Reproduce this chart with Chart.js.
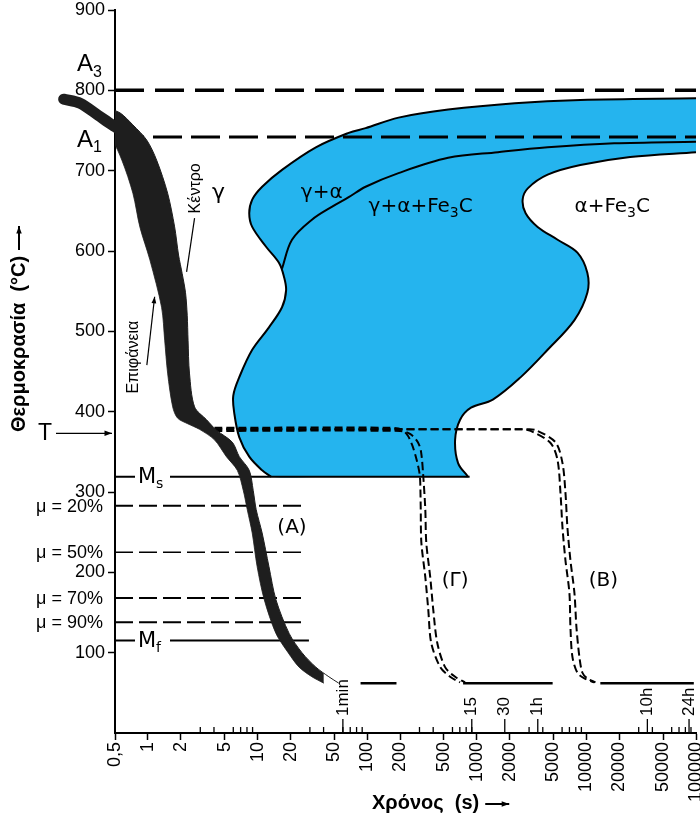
<!DOCTYPE html>
<html>
<head>
<meta charset="utf-8">
<script src="https://cdn.jsdelivr.net/npm/chart.js@4.4.0/dist/chart.umd.min.js"></script>
<style>
  body { margin: 0; background: #fff; }
  canvas { display: block; }
</style>
</head>
<body>
<canvas id="ttt" width="700" height="818"></canvas>
<script>
// values: time in s (log axis), temperature in °C
var xTicks = [0.5, 1, 2, 5, 10, 20, 50, 100, 200, 500, 1000, 2000, 5000, 10000, 20000, 50000, 100000];
var yTicks = [100, 200, 300, 400, 500, 600, 700, 800, 900];
var minorTicks = [3, 4, 6, 7, 8, 9];
var timeMarks = [60, 900, 1800, 3600, 36000, 86400];
var timeLabels = ['1min', '15', '30', '1h', '10h', '24h'];

var A3 = 800, A1 = 742, Ms = 319, Mf = 115, Thold = 378;
var muLevels = [283, 225, 168, 138];
var muLabels = ['μ = 20%', 'μ = 50%', 'μ = 70%', 'μ = 90%'];
var muEnd = 26.6, mfEnd = 29.4, msEnd = 860;

// cooling band (A): surface and centre
var surfaceA = [[0.165,785],[0.24,776],[0.35,754],[0.47,738],[0.578,713],[0.728,672],[0.843,630],[1.04,589],[1.33,530],[1.42,489],[1.51,448],[1.68,406],[1.86,392],[2.3,385],[2.95,378],[4.04,365],[5.19,344],[6.53,327],[7.4,302],[8.05,278],[8.93,249],[9.91,207],[11.5,166],[14.7,124],[19.0,100],[23.9,82],[31.3,70],[40.2,62]];
var centreA = [[0.165,793],[0.256,792],[0.423,778],[0.555,772],[0.728,757],[0.975,738],[1.2,713],[1.51,672],[1.75,630],[1.9,595],[2.05,572],[2.2,548],[2.28,520],[2.32,489],[2.39,448],[2.66,406],[3.42,390],[4.21,377],[5.88,362],[6.81,344],[8.39,327],[9.12,302],[9.71,278],[11.0,249],[12.7,207],[14.7,166],[19.4,124],[25.4,100],[34.0,82],[44.7,70],[55.1,62]];
var bandStart = [[0.6,748],[0.47,757],[0.35,769],[0.24,784],[0.17,789]];

// isothermal hold at T, then cooling (Γ) and (B)
var surfaceG = [[4.04,380],[160,380],[205,378],[235,370],[258,358],[275,346],[293,331],[303,319],[306,302],[308,278],[312,237],[339,194],[361,153],[384,112],[464,82],[571,70],[703,63]];
var centreG = [[4.04,376],[200,376],[248,372],[290,362],[310,350],[325,319],[339,278],[346,237],[376,194],[401,153],[436,112],[514,82],[634,70],[781,63]];
var surfaceB = [[4.04,378],[2600,378],[3100,376],[4710,361],[5450,340],[5800,299],[6050,256],[6440,215],[7000,174],[7150,132],[7450,95],[8270,75],[9590,68],[11800,63]];
var centreB = [[4.04,378],[2900,378],[3450,377],[5220,362],[6050,336],[6440,299],[6710,256],[7150,215],[7780,174],[8110,132],[8630,95],[9200,75],[10200,68],[12100,63]];
var restA = [[87,62],[185,62]];
var restG = [[750,62],[4920,62]];
var restB = [[13400,62],[95500,62]];

// transformation region
var startCurve = [[100000,790],[8810,788],[2220,784],[548,776],[193,766],[96.7,753],[67.8,747],[34.0,729],[16.7,701],[11.0,680],[8.93,664],[8.39,647],[8.93,630],[12.0,605],[15.7,585],[17.4,568],[18.2,551],[16.7,530],[12.7,505],[8.93,477],[6.81,443],[6.0,420],[6.13,398],[6.81,368],[8.39,344],[11.0,327],[13.3,319]];
var msEdge = [[40,319],[150,319],[400,319],[700,319]];
var finishCurve = [[832,319],[675,336],[634,365],[704,390],[885,405],[1400,415],[2520,443],[4430,477],[7780,514],[10200,548],[10200,573],[8280,598],[5460,614],[3590,630],[2790,647],[2620,664],[2920,678],[4430,695],[8810,707],[25100,717],[100000,723]];
var innerCurve = [[16.7,578],[20.6,614],[31.3,639],[47.5,655],[67.8,667],[96.7,680],[193,697],[548,716],[1560,723],[4430,729],[17900,734],[100000,736]];

var FONT = '"Liberation Sans", Arial, Helvetica, sans-serif';
var WIDE = '"DejaVu Sans", Verdana, sans-serif';
var BLUE = '#25b4ee';

function pts(arr) {
    return arr.map(function(p){ return {x: p[0], y: p[1]}; });
}
function hline(T, t0, t1) {
    return [{x: t0, y: T}, {x: t1, y: T}];
}
function seg(ctx, x0, y0, x1, y1) {
    ctx.beginPath(); ctx.moveTo(x0, y0); ctx.lineTo(x1, y1); ctx.stroke();
}
function arrow(ctx, x0, y0, x1, y1, h) {
    seg(ctx, x0, y0, x1, y1);
    var a = Math.atan2(y1 - y0, x1 - x0);
    ctx.beginPath();
    ctx.moveTo(x1, y1);
    ctx.lineTo(x1 - h * Math.cos(a - 0.35), y1 - h * Math.sin(a - 0.35));
    ctx.lineTo(x1 - h * Math.cos(a + 0.35), y1 - h * Math.sin(a + 0.35));
    ctx.closePath();
    ctx.fill();
}
function vtext(ctx, s, x, y, align) {
    ctx.save();
    ctx.translate(x, y);
    ctx.rotate(-Math.PI / 2);
    ctx.textAlign = align;
    ctx.textBaseline = 'middle';
    ctx.fillText(s, 0, 0);
    ctx.restore();
}
// text with subscripts: odd entries are subscripts
function chem(ctx, parts, x, y, size, family) {
    var cx = x;
    parts.forEach(function(p, i){
        var sub = i % 2 === 1;
        ctx.font = (sub ? Math.round(size * 0.68) : size) + 'px ' + (family || FONT);
        ctx.textAlign = 'left';
        ctx.textBaseline = 'middle';
        ctx.fillText(p, cx, sub ? y + size * 0.33 : y);
        cx += ctx.measureText(p).width;
    });
}

var decor = {
    id: 'decor',
    afterDraw: function(chart){
        var ctx = chart.ctx, xs = chart.scales.x, ys = chart.scales.y, area = chart.chartArea;
        var X = function(v){ return xs.getPixelForValue(v); };
        var Y = function(v){ return ys.getPixelForValue(v); };
        var w;
        ctx.save();
        ctx.fillStyle = '#000';
        ctx.strokeStyle = '#000';

        // small inner ticks of the log axis
        ctx.lineWidth = 1.3;
        for (var k = 0; k <= 4; k++) {
            minorTicks.forEach(function(m){
                var px = X(m * Math.pow(10, k));
                seg(ctx, px, area.bottom, px, area.bottom - 6);
            });
        }
        // clock time marks
        ctx.font = '17px ' + FONT;
        timeMarks.forEach(function(v, i){
            var px = X(v);
            seg(ctx, px, area.bottom, px, area.bottom - 14);
            vtext(ctx, timeLabels[i], px, area.bottom - 17, 'left');
        });

        // left margin labels
        chem(ctx, ['A', '3'], 77, Y(A3) - 26, 24);
        chem(ctx, ['A', '1'], 77, Y(A1) + 3, 24);
        ctx.font = '23px ' + FONT;
        ctx.textAlign = 'left';
        ctx.fillText('T', 38, Y(Thold) + 4);
        ctx.lineWidth = 1.3;
        arrow(ctx, 56, Y(Thold) + 4, 112, Y(Thold) + 4, 8);
        ctx.font = '18px ' + FONT;
        ctx.textAlign = 'right';
        muLevels.forEach(function(T, i){ ctx.fillText(muLabels[i], 103, Y(T) + 1); });

        // Ms and Mf sit in a gap of their lines
        [[Ms, 's'], [Mf, 'f']].forEach(function(m){
            ctx.fillStyle = '#fff';
            ctx.fillRect(135, Y(m[0]) - 11, 35, 22);
            ctx.fillStyle = '#000';
            chem(ctx, ['M', m[1]], 138, Y(m[0]) + 1, 21, WIDE);
        });

        // region and curve labels
        ctx.font = '22px ' + WIDE;
        ctx.textAlign = 'center';
        ctx.fillText('γ', X(4.4), Y(672));
        ctx.font = '20px ' + WIDE;
        ctx.fillText('γ+α', X(38.5), Y(672));
        chem(ctx, ['γ+α+Fe', '3', 'C'], X(103), Y(655), 20, WIDE);
        chem(ctx, ['α+Fe', '3', 'C'], X(7780), Y(655), 20, WIDE);
        ctx.font = '20px ' + WIDE;
        ctx.textAlign = 'center';
        ctx.fillText('(A)', X(20.6), Y(256));
        ctx.fillText('(Γ)', X(634), Y(190));
        ctx.fillText('(B)', X(14300), Y(190));

        ctx.font = '16px ' + FONT;
        vtext(ctx, 'Κέντρο', X(2.72), Y(678), 'center');
        ctx.lineWidth = 1.2;
        seg(ctx, X(2.66), Y(641), X(2.25), Y(574));
        vtext(ctx, 'Επιφάνεια', X(0.743), Y(468), 'center');
        arrow(ctx, X(0.976), Y(458), X(1.15), Y(543), 7);

        // axis titles with drawn arrows
        ctx.font = 'bold 20px ' + FONT;
        vtext(ctx, 'Θερμοκρασία  (°C)', 19, 432, 'left');
        w = ctx.measureText('Θερμοκρασία  (°C)').width;
        ctx.lineWidth = 2;
        arrow(ctx, 19, 432 - w - 6, 19, 432 - w - 30, 8);
        ctx.textAlign = 'left';
        ctx.textBaseline = 'middle';
        ctx.fillText('Χρόνος  (s)', 372, 803);
        w = ctx.measureText('Χρόνος  (s)').width;
        arrow(ctx, 372 + w + 6, 804, 372 + w + 30, 804, 8);
        ctx.restore();
    }
};

function line(data, color, width, dash, order, extra) {
    var ds = {
        data: data, borderColor: color, borderWidth: width, borderDash: dash || [],
        pointRadius: 0, fill: false, tension: 0, order: order
    };
    for (var k in extra || {}) ds[k] = extra[k];
    return ds;
}

var datasets = [
    // the thick cooling band, surface filled to centre
    line(pts(surfaceA), '#1e1e1e', 0.8, null, 1, {fill: '+1', backgroundColor: '#1e1e1e', tension: 0.3}),
    line(pts(centreA), '#1e1e1e', 1, null, 1, {tension: 0.3}),
    line(pts(bandStart), '#1e1e1e', 11, null, 1, {tension: 0.3, clip: false, borderCapStyle: 'round'}),
    line(pts(surfaceG), '#000', 2, [8, 4], 2, {tension: 0.3}),
    line(pts(centreG), '#000', 2, [8, 4], 2, {tension: 0.3}),
    line(pts(surfaceB), '#000', 2, [8, 4], 2, {tension: 0.3}),
    line(pts(centreB), '#000', 2, [8, 4], 2, {tension: 0.3}),
    line(pts(restA), '#000', 2.5, null, 2),
    line(pts(restG), '#000', 2.5, null, 2),
    line(pts(restB), '#000', 2.5, null, 2),
    line(hline(Ms, 0.5, msEnd), '#000', 2, null, 3),
    line(hline(Mf, 0.5, mfEnd), '#000', 2, null, 3)
];
muLevels.forEach(function(T, i){
    datasets.push(line(hline(T, 0.5, muEnd), '#000', i === 1 ? 1.4 : 2, [18, 6], 4));
});
datasets.push(line(hline(A3, 0.5, 100000), '#000', 3.5, [29, 11], 5));
datasets.push(line(hline(A1, 0.5, 100000), '#000', 3, [29, 9], 5));
datasets.push(line(pts(startCurve), '#000', 2, null, 6, {tension: 0.35}));
datasets.push(line(pts(innerCurve), '#000', 2, null, 6, {tension: 0.35}));
datasets.push(line(pts(finishCurve), '#000', 2, null, 6, {tension: 0.35}));
datasets.push(line(pts(startCurve.concat(msEdge, finishCurve)), BLUE, 0, null, 9,
    {fill: 'shape', backgroundColor: BLUE, tension: 0.35}));

Chart.defaults.font.family = FONT;
Chart.defaults.color = '#000';

var graph = new Chart(document.getElementById('ttt'), {
    type: 'line',
    data: { datasets: datasets },
    options: {
        responsive: false,
        animation: false,
        layout: { padding: { top: 10, right: 4, left: 0, bottom: 0 } },
        elements: { line: { capBezierPoints: false } },
        plugins: { legend: { display: false }, tooltip: { enabled: false } },
        scales: {
            x: {
                type: 'logarithmic', min: 0.5, max: 100000,
                afterBuildTicks: function(s){ s.ticks = xTicks.map(function(v){ return {value: v}; }); },
                afterFit: function(s){ s.height = 85; s.paddingLeft = 0; s.paddingRight = 0; },
                ticks: {
                    autoSkip: false, minRotation: 90, maxRotation: 90, padding: 2,
                    color: '#000', font: { size: 18 },
                    callback: function(v){ return v === 0.5 ? '0,5' : String(v); }
                },
                grid: { drawOnChartArea: false, color: '#000', tickLength: 7, tickWidth: 1.5 },
                border: { color: '#000', width: 2 }
            },
            y: {
                min: 0, max: 900,
                afterBuildTicks: function(s){ s.ticks = yTicks.map(function(v){ return {value: v}; }); },
                afterFit: function(s){ s.width = 115; s.paddingTop = 0; s.paddingBottom = 0; },
                ticks: { color: '#000', font: { size: 18 }, padding: 3 },
                grid: { drawOnChartArea: false, color: '#000', tickLength: 7, tickWidth: 1.5 },
                border: { color: '#000', width: 2 }
            }
        }
    },
    plugins: [decor]
});
</script>
</body>
</html>
